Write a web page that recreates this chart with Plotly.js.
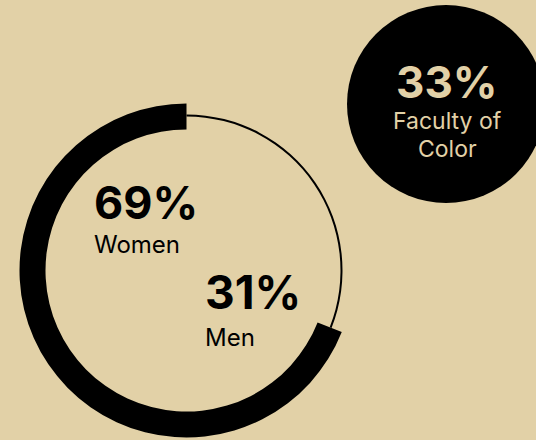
<!DOCTYPE html>
<html>
<head>
<meta charset="utf-8">
<script src="https://cdn.plot.ly/plotly-3.0.1.min.js"></script>
<style>html,body{margin:0;padding:0;background:#e2d1a7;}#chart{width:536px;height:440px;}</style>
</head>
<body>
<div id="chart"></div>
<script>
// Data
var categories = ["Women", "Men"];
var shares = [69, 31];
var facultyOfColorShare = 33;
var facultyOfColorLabel = ["Faculty of", "Color"];

var W = 536, H = 440;
var BG = "#e2d1a7";
var FONT = "Inter, 'Noto Sans', sans-serif";

// ring geometry in pixels
var cx = 186.5, cy = 270.5, rOut = 167, rIn = 141, rThin = 155, thinW = 2;
function dom(r) {
  return {x: [(cx - r) / W, (cx + r) / W], y: [(H - cy - r) / H, (H - cy + r) / H]};
}

// Men slice drawn first, clockwise from 12 o'clock; Women fills the rest.
var order = [1, 0];
var vals = order.map(function (i) { return shares[i]; });
var labs = order.map(function (i) { return categories[i]; });

var thinRing = {
  type: "pie", values: vals, labels: labs, sort: false,
  direction: "clockwise", rotation: 0,
  domain: dom(rThin + thinW / 2), hole: (rThin - thinW / 2) / (rThin + thinW / 2),
  marker: {colors: ["#000", "rgba(0,0,0,0)"], line: {width: 0}},
  textinfo: "none", hoverinfo: "label+percent", showlegend: false
};
var thickRing = {
  type: "pie", values: vals, labels: labs, sort: false,
  direction: "clockwise", rotation: 0,
  domain: dom(rOut), hole: rIn / rOut,
  marker: {colors: ["rgba(0,0,0,0)", "#000"], line: {width: 0}},
  textinfo: "none", hoverinfo: "label+percent", showlegend: false
};

function px(x) { return x / W; }
function py(y) { return (H - y) / H; }

var annotations = [
  {x: px(92), y: py(203), xanchor: "left", yanchor: "middle", text: shares[0] + "%",
   font: {family: FONT, size: 45, color: "#000", weight: 700}},
  {x: px(92), y: py(244), xanchor: "left", yanchor: "middle", text: categories[0],
   font: {family: FONT, size: 24, color: "#000"}},
  {x: px(203), y: py(292), xanchor: "left", yanchor: "middle", text: shares[1] + "%",
   font: {family: FONT, size: 46, color: "#000", weight: 700}},
  {x: px(203), y: py(337), xanchor: "left", yanchor: "middle", text: categories[1],
   font: {family: FONT, size: 24, color: "#000"}},
  {x: px(447), y: py(82), xanchor: "center", yanchor: "middle", text: facultyOfColorShare + "%",
   font: {family: FONT, size: 44, color: BG, weight: 700}},
  {x: px(447), y: py(121), xanchor: "center", yanchor: "middle", text: facultyOfColorLabel[0],
   font: {family: FONT, size: 23, color: BG}},
  {x: px(447), y: py(149), xanchor: "center", yanchor: "middle", text: facultyOfColorLabel[1],
   font: {family: FONT, size: 23, color: BG}}
];
annotations.forEach(function (a) { a.xref = "paper"; a.yref = "paper"; a.showarrow = false; });

var layout = {
  width: W, height: H,
  margin: {l: 0, r: 0, t: 0, b: 0},
  paper_bgcolor: BG, plot_bgcolor: BG,
  showlegend: false,
  shapes: [{
    type: "circle", xref: "paper", yref: "paper",
    x0: px(347), x1: px(545), y0: py(203), y1: py(5),
    fillcolor: "#000", line: {width: 0}, layer: "below"
  }],
  annotations: annotations
};

Plotly.newPlot("chart", [thinRing, thickRing], layout, {displayModeBar: false, staticPlot: true});
</script>
</body>
</html>
